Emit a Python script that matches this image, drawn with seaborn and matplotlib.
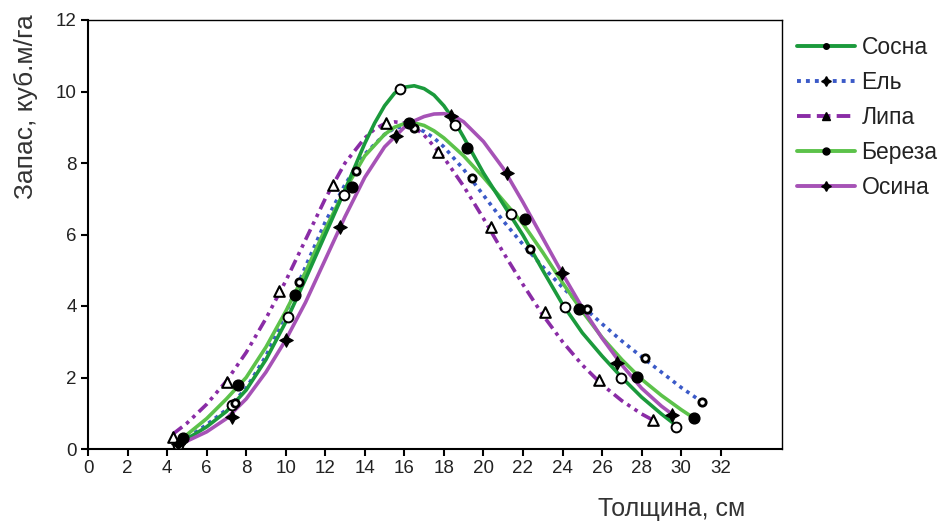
import matplotlib
matplotlib.use("Agg")
import matplotlib.pyplot as plt
from matplotlib.lines import Line2D
import seaborn as sns
import pandas as pd

# ---- data ----
species = ["Сосна", "Ель", "Липа", "Береза", "Осина"]

sosna_px = [4.55, 7.3, 10.14, 12.94, 15.77, 18.55, 21.39, 24.1, 26.95, 29.73]
sosna_py = [0.12, 1.22, 3.70, 7.10, 10.06, 9.06, 6.56, 3.98, 2.00, 0.62]
el_px = [4.7, 7.45, 10.67, 13.55, 16.5, 19.4, 22.35, 25.24, 28.16, 31.07]
el_py = [0.22, 1.30, 4.66, 7.78, 8.97, 7.58, 5.59, 3.91, 2.54, 1.32]
lipa_px = [4.28, 7.01, 9.66, 12.37, 15.07, 17.68, 20.4, 23.1, 25.85, 28.58]
lipa_py = [0.34, 1.88, 4.43, 7.38, 9.11, 8.30, 6.22, 3.84, 1.93, 0.81]
bereza_px = [4.82, 7.6, 10.47, 13.36, 16.25, 19.15, 22.1, 24.84, 27.77, 30.64]
bereza_py = [0.30, 1.79, 4.31, 7.32, 9.11, 8.43, 6.42, 3.92, 2.02, 0.86]
osina_px = [4.57, 7.26, 10.01, 12.74, 15.6, 18.35, 21.17, 23.95, 26.76, 29.56]
osina_py = [0.15, 0.90, 3.05, 6.22, 8.76, 9.31, 7.71, 4.91, 2.41, 0.95]

sosna_cx = [4.5, 5, 6, 7, 8, 9, 10, 11, 12, 13, 13.5, 14, 14.5, 15, 15.5, 16, 16.5, 17, 17.5,
            18, 18.5, 19, 19.5, 20, 21, 22, 23, 24, 25, 26, 27, 28, 29, 29.7]
sosna_cy = [0.12, 0.28, 0.62, 1.05, 1.65, 2.5, 3.55, 4.75, 6.0, 7.25, 7.9, 8.55, 9.12, 9.6,
            9.95, 10.12, 10.16, 10.08, 9.9, 9.6, 9.2, 8.72, 8.22, 7.72, 6.85, 5.98, 5.0, 4.05,
            3.25, 2.6, 2.0, 1.45, 0.98, 0.68]
el_cx = [4.7, 5, 6, 7, 8, 9, 10, 11, 12, 13, 14, 15, 15.5, 16, 16.5, 17, 17.5, 18, 19, 20,
         21, 22, 23, 24, 25, 26, 27, 28, 29, 30, 31.1]
el_cy = [0.2, 0.3, 0.68, 1.1, 1.7, 2.6, 3.8, 5.1, 6.35, 7.4, 8.25, 8.8, 8.97, 9.03, 9.0, 8.88,
         8.7, 8.45, 7.82, 7.1, 6.38, 5.72, 5.1, 4.52, 4.0, 3.5, 3.02, 2.58, 2.15, 1.72, 1.3]
lipa_cx = [4.3, 5, 6, 7, 8, 9, 10, 11, 12, 13, 14, 14.5, 15, 15.5, 16, 16.5, 17, 18, 19, 20,
           21, 22, 23, 24, 25, 26, 27, 28, 28.6]
lipa_cy = [0.42, 0.72, 1.25, 1.9, 2.7, 3.65, 4.7, 5.85, 7.0, 8.0, 8.7, 8.95, 9.1, 9.15, 9.12,
           9.0, 8.78, 8.15, 7.35, 6.45, 5.5, 4.6, 3.75, 3.0, 2.35, 1.8, 1.35, 0.98, 0.8]
bereza_cx = [4.8, 5, 6, 7, 8, 9, 10, 11, 12, 13, 14, 15, 15.5, 16, 16.5, 17, 17.5, 18, 19, 20,
             21, 22, 23, 24, 25, 26, 27, 28, 29, 30, 30.6]
bereza_cy = [0.3, 0.4, 0.85, 1.4, 2.0, 2.85, 3.85, 4.95, 6.15, 7.25, 8.2, 8.8, 9.0, 9.1, 9.12,
             9.05, 8.9, 8.7, 8.2, 7.6, 6.95, 6.3, 5.5, 4.65, 3.85, 3.12, 2.5, 1.95, 1.5, 1.1, 0.88]
osina_cx = [4.6, 5, 6, 7, 8, 9, 10, 11, 12, 13, 14, 15, 16, 16.5, 17, 17.5, 18, 18.5, 19, 20,
            21, 22, 23, 24, 25, 26, 27, 28, 29, 29.6]
osina_cy = [0.15, 0.22, 0.48, 0.85, 1.4, 2.15, 3.05, 4.1, 5.3, 6.5, 7.6, 8.45, 9.0, 9.18, 9.3,
            9.37, 9.38, 9.32, 9.15, 8.6, 7.85, 6.9, 5.9, 4.9, 3.95, 3.1, 2.35, 1.7, 1.2, 0.95]

x_ticks = list(range(0, 33, 2))
y_ticks = list(range(0, 13, 2))

# ---- styles ----
colors = {"Сосна": "#1b9a3c", "Ель": "#3b5ac8", "Липа": "#8a2ca6",
          "Береза": "#5cc24a", "Осина": "#a652b6"}
linestyles = {"Сосна": "-", "Ель": (0, (1.0, 1.3)), "Липа": (0, (3.2, 1.4, 1.0, 1.4, 1.0, 1.4)),
              "Береза": "-", "Осина": "-"}
legend_ls = {"Сосна": "-", "Ель": (0, (1.0, 1.3)), "Липа": (0, (3.5, 1.6)),
             "Береза": "-", "Осина": "-"}
point_style = {
    "Сосна": dict(marker="o", s=50, facecolor="white", edgecolor="black", linewidth=1.4),
    "Ель": dict(marker="o", s=28, facecolor="white", edgecolor="black", linewidth=2.0),
    "Липа": dict(marker="^", s=58, facecolor="white", edgecolor="black", linewidth=1.5),
    "Береза": dict(marker="o", s=60, facecolor="black", edgecolor="black", linewidth=1.0),
    "Осина": dict(marker=(4, 1, 0), s=95, facecolor="black", edgecolor="black", linewidth=0.8),
}
legend_marker = {"Сосна": ("o", 4), "Ель": ((4, 1, 0), 7), "Липа": ("^", 6),
                 "Береза": ("o", 5), "Осина": ((4, 1, 0), 7)}

curves = {
    "Сосна": (sosna_cx, sosna_cy), "Ель": (el_cx, el_cy), "Липа": (lipa_cx, lipa_cy),
    "Береза": (bereza_cx, bereza_cy), "Осина": (osina_cx, osina_cy),
}
points = {
    "Сосна": (sosna_px, sosna_py), "Ель": (el_px, el_py), "Липа": (lipa_px, lipa_py),
    "Береза": (bereza_px, bereza_py), "Осина": (osina_px, osina_py),
}

sns.set_style("ticks")
plt.rcParams["font.family"] = ["Liberation Sans", "DejaVu Sans"]

fig = plt.figure(figsize=(9.49, 5.23), dpi=100)
ax = fig.add_axes([88 / 949, 1 - 449 / 523, (782 - 88) / 949, (449 - 20) / 523])

draw_order = ["Липа", "Ель", "Береза", "Сосна", "Осина"]
for sp in draw_order:
    cx, cy = curves[sp]
    df = pd.DataFrame({"x": cx, "y": cy})
    sns.lineplot(data=df, x="x", y="y", ax=ax, color=colors[sp], linewidth=2.6,
                 linestyle=linestyles[sp], estimator=None, sort=True, zorder=2)

for sp in species:
    px, py = points[sp]
    dfp = pd.DataFrame({"x": px, "y": py})
    st = point_style[sp]
    sns.scatterplot(data=dfp, x="x", y="y", ax=ax, marker=st["marker"], s=st["s"],
                    facecolor=st["facecolor"], edgecolor=st["edgecolor"],
                    linewidth=st["linewidth"], zorder=4)

ax.set_xlim(0, 35.1)
ax.set_ylim(0, 12)
ax.set_xticks(x_ticks)
ax.set_yticks(y_ticks)
ax.set_xticklabels([str(t) for t in x_ticks])
ax.set_yticklabels([str(t) for t in y_ticks])

for side in ["left", "bottom", "top", "right"]:
    ax.spines[side].set_visible(True)
    ax.spines[side].set_color("black")
    ax.spines[side].set_linewidth(1.5)
ax.spines["top"].set_linewidth(1.0)
ax.spines["right"].set_linewidth(1.0)

ax.tick_params(axis="both", direction="out", length=5, width=1.5, labelsize=13.5,
               labelcolor="#222222", color="black", pad=3)

ax.set_xlabel("Толщина, см", fontsize=18, color="#333333", ha="right")
ax.xaxis.set_label_coords((745 - 88) / 694, -0.112)
ax.set_ylabel("Запас, куб.м/га", fontsize=19, color="#333333", loc="top")
ax.yaxis.set_label_coords(-0.072, 1.014)

handles = []
for sp in species:
    mk, ms = legend_marker[sp]
    handles.append(Line2D([], [], color=colors[sp], linewidth=2.8, linestyle=legend_ls[sp],
                          marker=mk, markersize=ms, markerfacecolor="black",
                          markeredgecolor="black"))
leg = ax.legend(handles, species, loc="upper left", bbox_to_anchor=(1.022, 0.962),
                frameon=False, fontsize=16.5, handlelength=2.5, handletextpad=0.3,
                labelspacing=0.52, borderaxespad=0, borderpad=0)
for t in leg.get_texts():
    t.set_color("#222222")

fig.savefig("out.png", dpi=100)
